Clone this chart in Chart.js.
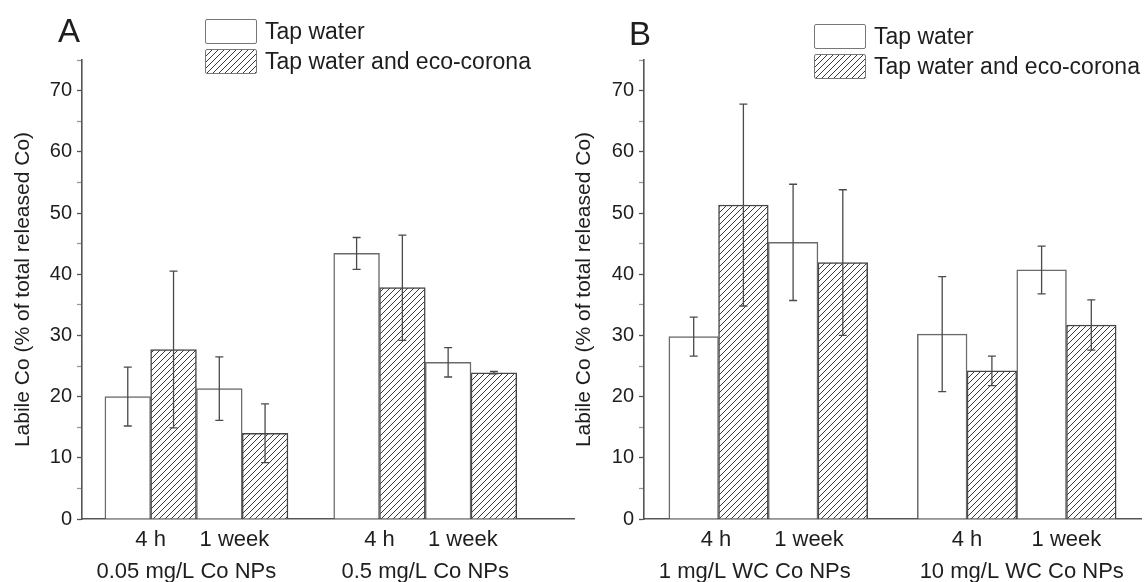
<!DOCTYPE html>
<html>
<head>
<meta charset="utf-8">
<script src="https://cdn.jsdelivr.net/npm/chart.js@4.4.1/dist/chart.umd.min.js"></script>
<style>
  html, body { margin: 0; padding: 0; background: #fff; }
  #wrap { position: relative; width: 1145px; height: 582px; overflow: hidden; background: #fff;
          font-family: "Liberation Sans", Arial, sans-serif; color: #1e1e1e; }
  canvas { position: absolute; top: 0; }
  #cA { left: 0; }
  #cB { left: 572px; }
  .panel { position: absolute; font-size: 33px; line-height: 33px; }
  .lg { position: absolute; height: 26px; display: flex; align-items: center; font-size: 23px; white-space: nowrap; }
  .lg .box { width: 50px; height: 23px; border: 1.5px solid #777; border-radius: 2px; margin-right: 8px; background: #fff; }
</style>
</head>
<body>
<div id="wrap">
  <canvas id="cA" width="576" height="582"></canvas>
  <canvas id="cB" width="573" height="582"></canvas>
  <div class="panel" style="left:58px; top:14px;">A</div>
  <div class="panel" style="left:629px; top:17px;">B</div>
  <div class="lg" style="left:205px; top:18px;"><div class="box"></div><span id="lgA1"></span></div>
  <div class="lg" style="left:205px; top:48px;"><div class="box hatch"></div><span id="lgA2"></span></div>
  <div class="lg" style="left:814px; top:23px;"><div class="box"></div><span id="lgB1"></span></div>
  <div class="lg" style="left:814px; top:53px;"><div class="box hatch"></div><span id="lgB2"></span></div>
</div>
<script>
// ---------------- data ----------------
const seriesNames = ['Tap water', 'Tap water and eco-corona'];
const timeLabels = ['4 h', '1 week'];
const yTitle = 'Labile Co (% of total released Co)';

// Panel A
const groupsA = ['0.05 mg/L Co NPs', '0.5 mg/L Co NPs'];
// order: group1 4 h, group1 1 week, group2 4 h, group2 1 week
const tapA      = [20.0, 21.3, 43.4, 25.6];
const tapErrA   = [4.8, 5.2, 2.6, 2.4];
const ecoA      = [27.7, 14.0, 37.8, 23.9];
const ecoErrA   = [12.8, 4.8, 8.6, 0.2];

// Panel B
const groupsB = ['1 mg/L WC Co NPs', '10 mg/L WC Co NPs'];
const tapB      = [29.8, 45.2, 30.2, 40.7];
const tapErrB   = [3.2, 9.5, 9.4, 3.9];
const ecoB      = [51.3, 41.9, 24.2, 31.7];
const ecoErrB   = [16.5, 11.9, 2.4, 4.1];

// ---------------- styling helpers ----------------
const FONT = '"Liberation Sans", Arial, sans-serif';
Chart.defaults.font.family = FONT;
Chart.defaults.color = '#1e1e1e';

function makeHatchCanvas() {
  const c = document.createElement('canvas');
  c.width = 6; c.height = 6;
  const g = c.getContext('2d');
  g.fillStyle = '#fff'; g.fillRect(0, 0, 6, 6);
  g.strokeStyle = '#3a3a3a'; g.lineWidth = 1;
  g.beginPath();
  g.moveTo(0, 6); g.lineTo(6, 0);
  g.moveTo(-1, 1); g.lineTo(1, -1);
  g.moveTo(5, 7); g.lineTo(7, 5);
  g.stroke();
  return c;
}
const hatchCanvas = makeHatchCanvas();
document.querySelectorAll('.hatch').forEach(el => {
  el.style.backgroundImage = 'url(' + hatchCanvas.toDataURL() + ')';
});
document.getElementById('lgA1').textContent = seriesNames[0];
document.getElementById('lgA2').textContent = seriesNames[1];
document.getElementById('lgB1').textContent = seriesNames[0];
document.getElementById('lgB2').textContent = seriesNames[1];

// slot position of a bar from its group / time / series index (category-like layout)
function slot(i, s) {
  const g = Math.floor(i / timeLabels.length), t = i % timeLabels.length;
  return g * (timeLabels.length * 2 + 1) + t * 2 + s + 1;
}

const errorBars = {
  id: 'errorBars',
  afterDatasetsDraw(chart) {
    const ctx = chart.ctx, yS = chart.scales.y;
    ctx.save();
    ctx.strokeStyle = '#4a4a4a';
    ctx.lineWidth = 1.3;
    chart.data.datasets.forEach((ds, di) => {
      const meta = chart.getDatasetMeta(di);
      meta.data.forEach((bar, j) => {
        const v = ds.data[j].y, e = ds.errors[j];
        const x = bar.x;
        const yt = yS.getPixelForValue(v + e), yb = yS.getPixelForValue(v - e);
        const cw = 4;
        ctx.beginPath();
        ctx.moveTo(x, yt); ctx.lineTo(x, yb);
        ctx.moveTo(x - cw, yt); ctx.lineTo(x + cw, yt);
        ctx.moveTo(x - cw, yb); ctx.lineTo(x + cw, yb);
        ctx.stroke();
      });
    });
    ctx.restore();
  }
};

function makePanel(canvasId, groups, tap, tapErr, eco, ecoErr, cfg) {
  const ctx = document.getElementById(canvasId).getContext('2d');
  const pattern = ctx.createPattern(hatchCanvas, 'repeat');
  const timeTicks = [], groupTicks = [];
  groups.forEach((g, gi) => {
    timeLabels.forEach((t, ti) => {
      const k = gi * timeLabels.length + ti;
      timeTicks.push(slot(k, 0.5) + cfg.timeShift[k]);
    });
    groupTicks.push((slot(gi * timeLabels.length, 0) + slot(gi * timeLabels.length + timeLabels.length - 1, 1)) / 2
                    + cfg.groupShift[gi]);
  });
  const common = { xAxisID: 'x', yAxisID: 'y', grouped: false, categoryPercentage: 1, barPercentage: 1,
                   borderWidth: 1.5, borderSkipped: 'bottom' };
  return new Chart(ctx, {
    type: 'bar',
    data: {
      datasets: [
        Object.assign({ label: seriesNames[0], data: tap.map((v, i) => ({ x: slot(i, 0), y: v })),
          errors: tapErr, backgroundColor: '#ffffff', borderColor: '#6a6a6a' }, common),
        Object.assign({ label: seriesNames[1], data: eco.map((v, i) => ({ x: slot(i, 1), y: v })),
          errors: ecoErr, backgroundColor: pattern, borderColor: '#454545' }, common)
      ]
    },
    options: {
      responsive: false,
      animation: false,
      layout: { padding: { left: cfg.padLeft, right: cfg.padRight, top: 60, bottom: 0 } },
      plugins: { legend: { display: false }, tooltip: { enabled: false } },
      scales: {
        x: {
          type: 'linear', min: 0, max: cfg.xMax, position: 'bottom', weight: 0, offset: false,
          grid: { display: false, drawTicks: false, offset: false },
          border: { display: true, color: '#555', width: 1.6 },
          afterBuildTicks: s => { s.ticks = timeTicks.map(v => ({ value: v })); },
          afterFit: s => { s.height = 32; },
          ticks: { autoSkip: false, maxRotation: 0, padding: 8, color: '#1e1e1e',
            font: { size: 22 }, callback: (v, i) => timeLabels[i % timeLabels.length] }
        },
        x2: {
          type: 'linear', min: 0, max: cfg.xMax, position: 'bottom', weight: 1, offset: false,
          grid: { display: false, drawTicks: false, offset: false },
          border: { display: false },
          afterBuildTicks: s => { s.ticks = groupTicks.map(v => ({ value: v })); },
          afterFit: s => { s.height = 31; },
          ticks: { autoSkip: false, maxRotation: 0, padding: 8, color: '#1e1e1e',
            font: { size: 22 }, callback: (v, i) => groups[i] }
        },
        y: {
          min: 0, max: 75,
          grid: { drawOnChartArea: false, drawTicks: true, tickLength: 5,
            tickColor: c => (c.tick && c.tick.value % 10 === 0) ? '#555' : '#999', tickWidth: 1.3 },
          border: { display: true, color: '#555', width: 1.6 },
          afterFit: s => { s.width = cfg.yWidth; },
          ticks: { stepSize: 5, padding: 5, color: '#1e1e1e', font: { size: 20 },
            callback: v => (v % 10 === 0 ? v : '') },
          title: { display: true, text: yTitle, color: '#1e1e1e', font: { size: 21 }, padding: { top: 0, bottom: 0 } }
        }
      }
    },
    plugins: [errorBars]
  });
}

makePanel('cA', groupsA, tapA, tapErrA, ecoA, ecoErrA,
  { xMax: 10.75, padLeft: 11, padRight: 2, yWidth: 71, timeShift: [0, -0.17, 0, -0.18], groupShift: [-0.22, 0] });
makePanel('cB', groupsB, tapB, tapErrB, ecoB, ecoErrB,
  { xMax: 10, padLeft: 0, padRight: 4, yWidth: 72, timeShift: [-0.05, -0.18, 0, 0], groupShift: [-0.27, 0.1] });
</script>
</body>
</html>
